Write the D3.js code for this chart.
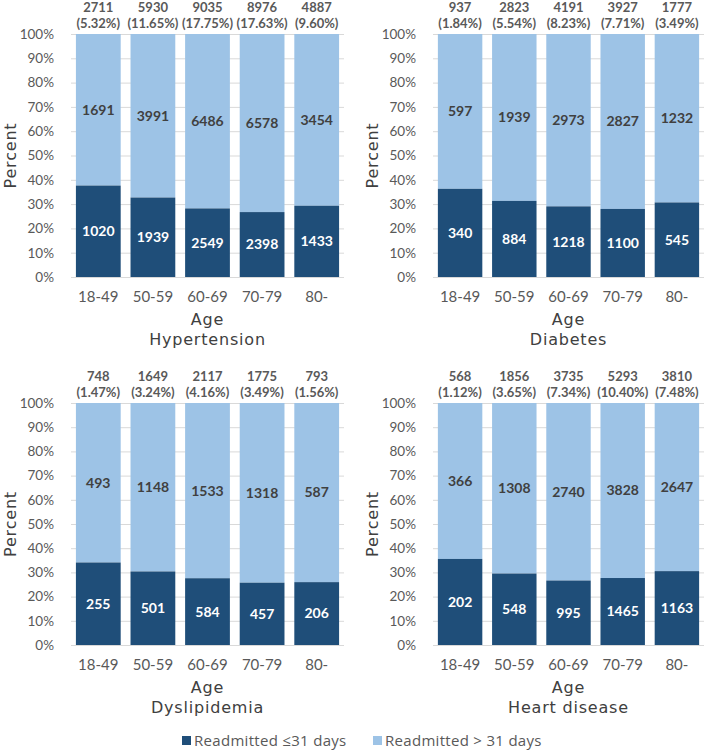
<!DOCTYPE html>
<html>
<head>
<meta charset="utf-8">
<script src="https://cdn.jsdelivr.net/npm/d3@7"></script>
<style>
  html, body { margin: 0; padding: 0; background: #ffffff; }
  svg { display: block; }
</style>
</head>
<body>
<div id="chart"></div>
<script>
// ---- Data ----
const categories = ["18-49", "50-59", "60-69", "70-79", "80-"];
const yTicks = [0, 0.1, 0.2, 0.3, 0.4, 0.5, 0.6, 0.7, 0.8, 0.9, 1.0];
const seriesNames = ["Readmitted \u226431 days", "Readmitted > 31 days"];

const hypertensionLE31 = [1020, 1939, 2549, 2398, 1433];
const hypertensionGT31 = [1691, 3991, 6486, 6578, 3454];
const hypertensionShare = [5.32, 11.65, 17.75, 17.63, 9.60];

const diabetesLE31 = [340, 884, 1218, 1100, 545];
const diabetesGT31 = [597, 1939, 2973, 2827, 1232];
const diabetesShare = [1.84, 5.54, 8.23, 7.71, 3.49];

const dyslipidemiaLE31 = [255, 501, 584, 457, 206];
const dyslipidemiaGT31 = [493, 1148, 1533, 1318, 587];
const dyslipidemiaShare = [1.47, 3.24, 4.16, 3.49, 1.56];

const heartLE31 = [202, 548, 995, 1465, 1163];
const heartGT31 = [366, 1308, 2740, 3828, 2647];
const heartShare = [1.12, 3.65, 7.34, 10.40, 7.48];

const panels = [
  { title: "Hypertension", le: hypertensionLE31, gt: hypertensionGT31, share: hypertensionShare, col: 0, row: 0 },
  { title: "Diabetes", le: diabetesLE31, gt: diabetesGT31, share: diabetesShare, col: 1, row: 0 },
  { title: "Dyslipidemia", le: dyslipidemiaLE31, gt: dyslipidemiaGT31, share: dyslipidemiaShare, col: 0, row: 1 },
  { title: "Heart disease", le: heartLE31, gt: heartGT31, share: heartShare, col: 1, row: 1 }
];

// ---- Layout / style ----
const W = 709, H = 756;
const colX = [[71, 344], [433, 704]];
const rowY = [[34, 277], [403, 645]];
const darkColor = "#1f4e79";
const lightColor = "#9dc3e6";
const gridColor = "#d9d9d9";
const tickColor = "#595959";
const labelFont = "Lato, 'Open Sans', sans-serif";
const legendFont = "'Open Sans', Lato, sans-serif";
const titleFont = "'DejaVu Sans', Verdana, sans-serif";

const svg = d3.select("#chart").append("svg")
  .attr("width", W).attr("height", H);

panels.forEach(p => {
  const [x0, x1] = colX[p.col];
  const [y0, y1] = rowY[p.row];
  const x = d3.scaleBand().domain(categories).range([x0, x1]).paddingInner(0.18).paddingOuter(0.09);
  const y = d3.scaleLinear().domain([0, 1]).range([y1, y0]);
  const g = svg.append("g");

  // y axis with gridlines
  const yAxis = d3.axisLeft(y).tickValues(yTicks).tickFormat(d3.format(".0%"))
    .tickSize(-(x1 - x0)).tickPadding(17);
  const ya = g.append("g").attr("transform", `translate(${x0},0)`).call(yAxis);
  ya.select(".domain").remove();
  ya.selectAll(".tick line").attr("stroke", gridColor).attr("stroke-width", 1);
  ya.selectAll(".tick text").attr("fill", tickColor).style("font-family", labelFont).style("font-size", "13.5px");

  // x axis labels
  const xAxis = d3.axisBottom(x).tickSize(0).tickPadding(14);
  const xa = g.append("g").attr("transform", `translate(0,${y1})`).call(xAxis);
  xa.select(".domain").remove();
  xa.selectAll(".tick text").attr("fill", tickColor).style("font-family", labelFont).style("font-size", "15px");

  const rows = categories.map((c, i) => {
    const total = p.le[i] + p.gt[i];
    return { c, le: p.le[i], gt: p.gt[i], total, fLe: p.le[i] / total, share: p.share[i] };
  });

  // light (>31 days) segments
  g.selectAll(".light").data(rows).join("rect")
    .attr("x", d => x(d.c)).attr("width", x.bandwidth())
    .attr("y", y(1)).attr("height", d => y(d.fLe) - y(1))
    .attr("fill", lightColor);
  // dark (<=31 days) segments
  g.selectAll(".dark").data(rows).join("rect")
    .attr("x", d => x(d.c)).attr("width", x.bandwidth())
    .attr("y", d => y(d.fLe)).attr("height", d => y(0) - y(d.fLe))
    .attr("fill", darkColor);

  // segment labels
  g.selectAll(".lightLbl").data(rows).join("text")
    .attr("x", d => x(d.c) + x.bandwidth() / 2)
    .attr("y", d => (y(1) + y(d.fLe)) / 2)
    .attr("dy", "0.35em").attr("text-anchor", "middle")
    .attr("fill", "#404040").style("font-family", labelFont)
    .style("font-size", "14px").style("font-weight", "bold")
    .text(d => d.gt);
  g.selectAll(".darkLbl").data(rows).join("text")
    .attr("x", d => x(d.c) + x.bandwidth() / 2)
    .attr("y", d => (y(0) + y(d.fLe)) / 2)
    .attr("dy", "0.35em").attr("text-anchor", "middle")
    .attr("fill", "#ffffff").style("font-family", labelFont)
    .style("font-size", "14px").style("font-weight", "bold")
    .text(d => d.le);

  // totals above bars
  g.selectAll(".tot").data(rows).join("text")
    .attr("x", d => x(d.c) + x.bandwidth() / 2)
    .attr("y", y(1) - 27)
    .attr("dy", "0.35em").attr("text-anchor", "middle")
    .attr("fill", tickColor).style("font-family", labelFont)
    .style("font-size", "13px").style("font-weight", "bold")
    .text(d => d.total);
  g.selectAll(".shr").data(rows).join("text")
    .attr("x", d => x(d.c) + x.bandwidth() / 2)
    .attr("y", y(1) - 11)
    .attr("dy", "0.35em").attr("text-anchor", "middle")
    .attr("fill", tickColor).style("font-family", labelFont)
    .style("font-size", "13px").style("font-weight", "bold")
    .text(d => `(${d.share.toFixed(2)}%)`);

  // axis titles
  const cx = (x0 + x1) / 2;
  g.append("text").attr("x", cx).attr("y", y1 + 42).attr("dy", "0.35em")
    .attr("text-anchor", "middle").attr("fill", "#404040")
    .style("font-family", titleFont).style("font-size", "16px").style("letter-spacing", "0.8px")
    .text("Age");
  g.append("text").attr("x", cx).attr("y", y1 + 62).attr("dy", "0.35em")
    .attr("text-anchor", "middle").attr("fill", "#404040")
    .style("font-family", titleFont).style("font-size", "16px").style("letter-spacing", "0.8px")
    .text(p.title);
  g.append("text")
    .attr("transform", `translate(${x0 - 61},${(y0 + y1) / 2}) rotate(-90)`)
    .attr("dy", "0.35em").attr("text-anchor", "middle").attr("fill", "#404040")
    .style("font-family", titleFont).style("font-size", "16px").style("letter-spacing", "0.8px")
    .text("Percent");
});

// legend
const legendItems = [
  { name: seriesNames[0], color: darkColor, x: 182 },
  { name: seriesNames[1], color: lightColor, x: 373 }
];
const lg = svg.append("g");
legendItems.forEach(it => {
  lg.append("rect").attr("x", it.x).attr("y", 736).attr("width", 9).attr("height", 9).attr("fill", it.color);
  lg.append("text").attr("x", it.x + 12).attr("y", 741).attr("dy", "0.35em")
    .attr("fill", tickColor).style("font-family", legendFont).style("font-size", "15px")
    .style("letter-spacing", "0.3px")
    .text(it.name);
});
</script>
</body>
</html>
